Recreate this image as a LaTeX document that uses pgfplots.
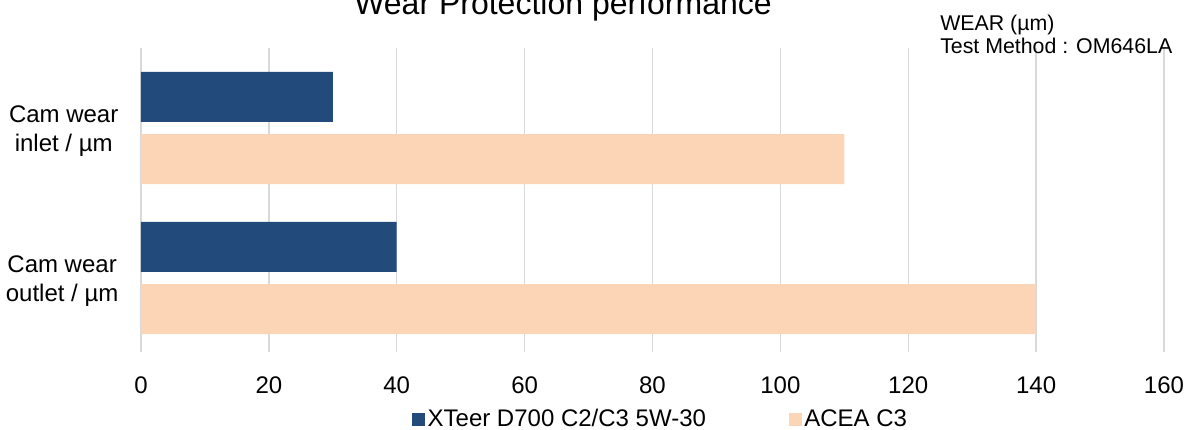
\documentclass[border=0pt]{standalone}
\usepackage{pgfplots}
\pgfplotsset{compat=1.18}
\usepackage{fontspec}
\setmainfont{Liberation Sans}
\definecolor{xblue}{HTML}{224A7B}
\definecolor{xpeach}{HTML}{FBD5B5}
\definecolor{xgrid}{HTML}{D9D9D9}
\begin{document}
\begin{tikzpicture}
\path[use as bounding box] (-105.75pt,-57.75pt) rectangle (791.25pt,264pt);
\begin{axis}[
  at={(0,0)}, anchor=south west,
  scale only axis,
  width=767.25pt, height=228pt,
  xbar,
  xmin=0, xmax=160,
  ymin=-0.4933, ymax=1.5333,
  xtick={0,20,...,160},
  ytick={0,1},
  yticklabels={{Cam wear\\outlet / µm},{Cam wear\\inlet / µm}},
  xmajorgrids,
  grid style={draw=xgrid, line width=1pt},
  axis line style={draw=none},
  major tick style={draw=none},
  /pgf/number format/assume math mode=true,
  xticklabel style={font=\fontsize{18}{21.75}\selectfont, anchor=base, yshift=-31pt},
  yticklabel style={font=\fontsize{18}{21.75}\selectfont, align=center, inner sep=0pt, xshift=-12.5pt, yshift=-2.25pt},
  bar width=0.333,
  legend columns=2,
  legend style={at={(0.2649,-0.2204)}, anchor=west, draw=none, fill=none,
    inner sep=0pt, outer sep=0pt,
    font=\fontsize{18}{21.75}\selectfont,
    /tikz/every even column/.append style={column sep=60pt}},
  legend image code/.code={\fill[#1] (0pt,-4.875pt) rectangle (9.75pt,4.875pt);},
]
\addplot[fill=xblue, draw=none, bar shift=0.207] coordinates {(30,1) (40,0)};
\addlegendentry{XTeer D700 C2/C3 5W-30}
\addplot[fill=xpeach, draw=none, bar shift=-0.207] coordinates {(110,1) (140,0)};
\addlegendentry{ACEA C3}
\end{axis}
\node[anchor=base, font=\fontsize{24}{28}\selectfont, inner sep=0pt] at (316.5pt,252.75pt) {Wear Protection performance};
\node[anchor=base west, font=\fontsize{16}{19}\selectfont, inner sep=0pt] at (599.25pt,240.75pt) {WEAR (µm)};
\node[anchor=base west, font=\fontsize{16}{19}\selectfont, inner sep=0pt] at (599.25pt,223.5pt) {Test Method : OM646LA};
\end{tikzpicture}
\end{document}
